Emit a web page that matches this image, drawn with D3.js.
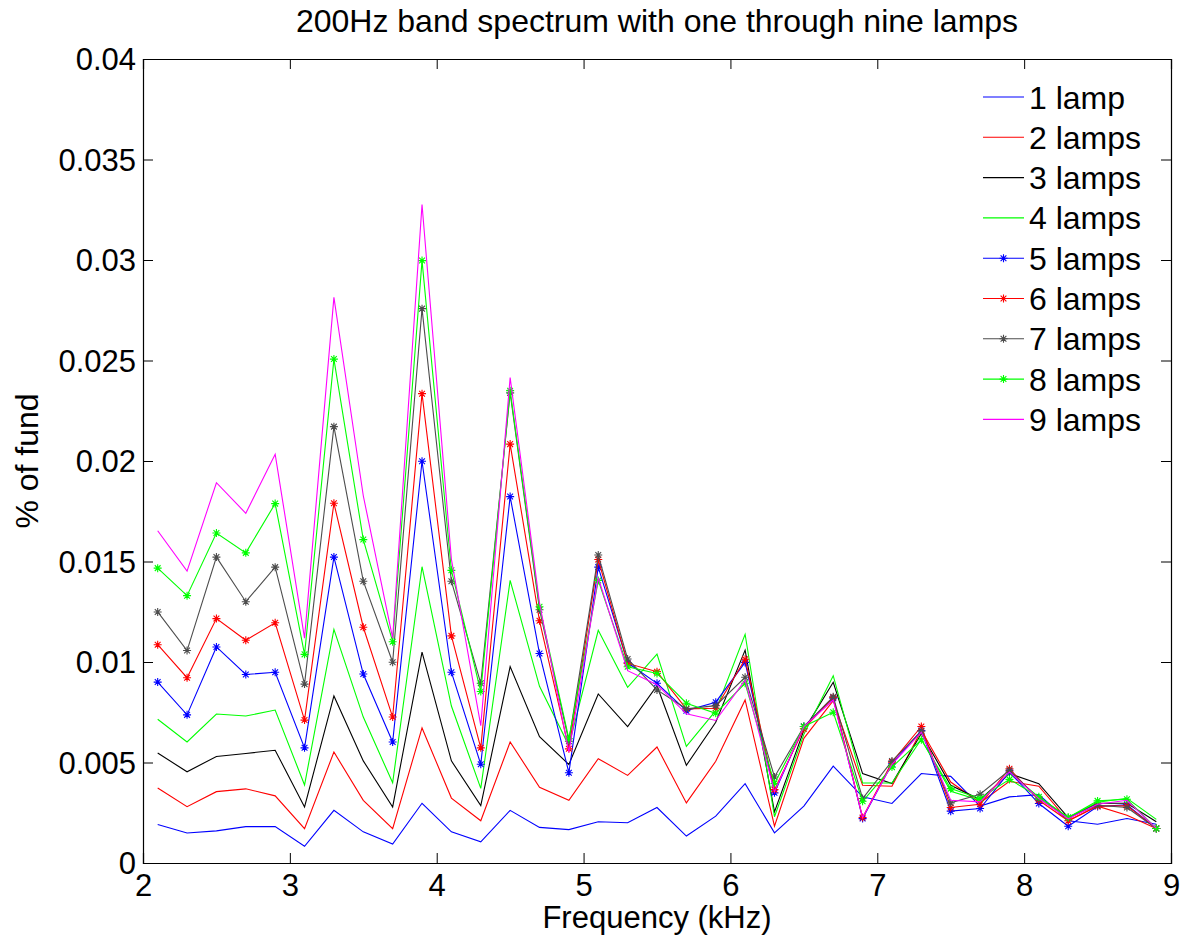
<!DOCTYPE html>
<html>
<head>
<meta charset="utf-8">
<script src="https://cdn.jsdelivr.net/npm/d3@7"></script>
<style>
  body { margin: 0; background: #fff; }
  text { font-family: "Liberation Sans", Arial, sans-serif; fill: #000; }
</style>
</head>
<body>
<div id="vis-holder"></div>
<script>

// band centre frequencies (kHz)
let FREQS = [2.1,2.3,2.5,2.7,2.9,3.1,3.3,3.5,3.7,3.9,4.1,4.3,4.5,4.7,4.9,5.1,5.3,5.5,5.7,5.9,
             6.1,6.3,6.5,6.7,6.9,7.1,7.3,7.5,7.7,7.9,8.1,8.3,8.5,8.7,8.9]

let lamp1 = [0.00192,0.00149,0.00160,0.00181,0.00181,0.00083,0.00262,0.00155,0.00094,0.00297,0.00155,0.00105,0.00262,0.00177,0.00166,0.00205,0.00200,0.00276,0.00134,0.00233,0.00395,0.00150,0.00283,0.00482,0.00329,0.00296,0.00445,0.00431,0.00283,0.00329,0.00340,0.00210,0.00193,0.00221,0.00193]
let lamp2 = [0.00373,0.00280,0.00355,0.00369,0.00334,0.00171,0.00552,0.00312,0.00171,0.00672,0.00323,0.00210,0.00602,0.00377,0.00312,0.00519,0.00436,0.00577,0.00299,0.00506,0.00811,0.00183,0.00620,0.00808,0.00387,0.00382,0.00660,0.00403,0.00300,0.00406,0.00382,0.00210,0.00283,0.00238,0.00172]
let lamp3 = [0.00547,0.00454,0.00530,0.00545,0.00561,0.00279,0.00831,0.00508,0.00279,0.01049,0.00508,0.00286,0.00977,0.00628,0.00490,0.00841,0.00679,0.00882,0.00486,0.00700,0.01059,0.00254,0.00660,0.00899,0.00445,0.00395,0.00644,0.00387,0.00316,0.00445,0.00395,0.00226,0.00297,0.00297,0.00205]
let lamp4 = [0.00715,0.00602,0.00741,0.00731,0.00761,0.00388,0.01162,0.00726,0.00399,0.01474,0.00781,0.00371,0.01406,0.00879,0.00584,0.01158,0.00874,0.01039,0.00580,0.00758,0.01138,0.00230,0.00640,0.00932,0.00398,0.00398,0.00616,0.00357,0.00312,0.00445,0.00329,0.00226,0.00302,0.00322,0.00217]
let lamp5 = [0.00900,0.00737,0.01075,0.00938,0.00949,0.00573,0.01522,0.00940,0.00602,0.01999,0.00949,0.00491,0.01823,0.01042,0.00449,0.01472,0.00996,0.00894,0.00758,0.00800,0.00998,0.00349,0.00679,0.00820,0.00221,0.00494,0.00659,0.00258,0.00271,0.00453,0.00296,0.00183,0.00281,0.00290,0.00172]
let lamp6 = [0.01086,0.00922,0.01216,0.01108,0.01195,0.00711,0.01790,0.01173,0.00726,0.02335,0.01130,0.00573,0.02084,0.01205,0.00568,0.01510,0.00993,0.00952,0.00767,0.00770,0.01014,0.00365,0.00668,0.00824,0.00226,0.00502,0.00679,0.00276,0.00292,0.00469,0.00312,0.00210,0.00283,0.00285,0.00172]
let lamp7 = [0.01249,0.01057,0.01522,0.01300,0.01472,0.00890,0.02171,0.01402,0.00999,0.02758,0.01402,0.00894,0.02339,0.01260,0.00606,0.01532,0.01015,0.00861,0.00767,0.00783,0.00924,0.00428,0.00679,0.00827,0.00321,0.00507,0.00656,0.00299,0.00342,0.00461,0.00320,0.00226,0.00287,0.00276,0.00172]
let lamp8 = [0.01467,0.01330,0.01642,0.01543,0.01788,0.01038,0.02507,0.01609,0.01101,0.02997,0.01456,0.00853,0.02350,0.01275,0.00618,0.01406,0.00976,0.00943,0.00795,0.00745,0.00894,0.00395,0.00679,0.00750,0.00307,0.00477,0.00613,0.00370,0.00321,0.00416,0.00329,0.00226,0.00309,0.00317,0.00172]
let lamp9 = [0.01653,0.01452,0.01892,0.01740,0.02034,0.01119,0.02814,0.01827,0.01119,0.03276,0.01511,0.00683,0.02415,0.01293,0.00552,0.01419,0.00957,0.00887,0.00742,0.00709,0.00910,0.00355,0.00679,0.00811,0.00226,0.00491,0.00651,0.00312,0.00304,0.00453,0.00320,0.00220,0.00292,0.00312,0.00172]

let LABELS = ["1 lamp","2 lamps","3 lamps","4 lamps","5 lamps","6 lamps","7 lamps","8 lamps","9 lamps"]
let X_TICKS = [2,3,4,5,6,7,8,9]
let Y_TICKS = [0,0.005,0.01,0.015,0.02,0.025,0.03,0.035,0.04]
let Y_TICK_LABELS = ["0","0.005","0.01","0.015","0.02","0.025","0.03","0.035","0.04"]

let SERIES = [lamp1,lamp2,lamp3,lamp4,lamp5,lamp6,lamp7,lamp8,lamp9]
let COLORS = ["#0000ff","#ff0000","#000000","#00ff00","#0000ff","#ff0000","#4d4d4d","#00ff00","#ff00ff"]
let STARS  = [false,false,false,false,true,true,true,true,false]

// plot box in page pixels
var margin = {top: 59, right: 10, bottom: 76, left: 143},
    width = 1181 - margin.left - margin.right,
    height = 939 - margin.top - margin.bottom;

var svg = d3.select("#vis-holder")
  .append("svg")
    .attr("width", 1181)
    .attr("height", 939)

var plot = svg.append("g")
    .attr("transform", "translate(" + margin.left + "," + margin.top + ")");

var x = d3.scaleLinear().domain([2, 9]).range([0, width]);
var y = d3.scaleLinear().domain([0, 0.04]).range([height, 0]);

// axes box, matlab style ticks pointing inwards on all sides
var tick = 10
plot.append("g")
  .attr("transform", "translate(0," + height + ")")
  .call(d3.axisBottom(x).tickValues(X_TICKS).tickSize(-tick).tickPadding(11).tickFormat(d3.format("d")))
plot.append("g")
  .call(d3.axisTop(x).tickValues(X_TICKS).tickSize(-tick).tickFormat(""))
plot.append("g")
  .attr("class", "yleft")
  .call(d3.axisLeft(y).tickValues(Y_TICKS).tickSize(-tick).tickPadding(7)
        .tickFormat((d, i) => Y_TICK_LABELS[i]))
plot.append("g")
  .attr("transform", "translate(" + width + ",0)")
  .call(d3.axisRight(y).tickValues(Y_TICKS).tickSize(-tick).tickFormat(""))

plot.selectAll(".domain").attr("stroke", "#000").attr("stroke-width", 1.2)
plot.selectAll(".tick line").attr("stroke", "#000").attr("stroke-width", 1)
plot.selectAll(".tick text").style("font-size", "31px").attr("fill", "#000")
plot.selectAll(".yleft .tick text").attr("dy", "0.35em")

// asterisk marker: plus + cross
function star(cx, cy, r) {
  let d = r * 0.72
  return "M" + (cx - r) + "," + cy + "H" + (cx + r) +
         "M" + cx + "," + (cy - r) + "V" + (cy + r) +
         "M" + (cx - d) + "," + (cy - d) + "L" + (cx + d) + "," + (cy + d) +
         "M" + (cx - d) + "," + (cy + d) + "L" + (cx + d) + "," + (cy - d)
}

var line = d3.line()
  .x((d, i) => x(FREQS[i]))
  .y(d => y(d))

SERIES.forEach((vals, k) => {
  plot.append("path")
    .datum(vals)
    .attr("d", line)
    .attr("fill", "none")
    .attr("stroke", COLORS[k])
    .attr("stroke-width", 1.1)

  if (STARS[k]) {
    plot.append("g")
      .selectAll("path")
      .data(vals)
      .enter()
      .append("path")
        .attr("d", (d, i) => star(x(FREQS[i]), y(d), 4))
        .attr("stroke", COLORS[k])
        .attr("stroke-width", 1.1)
  }
})

// legend (no box)
var legend = svg.append("g")
legend.selectAll("g")
  .data(LABELS)
  .enter()
  .append("g")
  .each(function(d, k) {
    let g = d3.select(this)
    let ly = 97 + k * 40.3
    g.append("line")
      .attr("x1", 983).attr("x2", 1024)
      .attr("y1", ly).attr("y2", ly)
      .attr("stroke", COLORS[k])
      .attr("stroke-width", 1.1)
    if (STARS[k]) {
      g.append("path")
        .attr("d", star(1003.5, ly, 4))
        .attr("stroke", COLORS[k])
        .attr("stroke-width", 1.1)
    }
    g.append("text")
      .attr("x", 1029)
      .attr("y", ly + 11.5)
      .style("font-size", "32px")
      .text(d)
  })

// titles
svg.append("text")
  .attr("x", margin.left + width / 2)
  .attr("y", 32)
  .attr("text-anchor", "middle")
  .style("font-size", "32px")
  .text("200Hz band spectrum with one through nine lamps")

svg.append("text")
  .attr("x", margin.left + width / 2)
  .attr("y", 928)
  .attr("text-anchor", "middle")
  .style("font-size", "31px")
  .text("Frequency (kHz)")

svg.append("text")
  .attr("transform", "translate(38," + (margin.top + height / 2) + ") rotate(-90)")
  .attr("text-anchor", "middle")
  .style("font-size", "32px")
  .text("% of fund")

</script>
</body>
</html>
